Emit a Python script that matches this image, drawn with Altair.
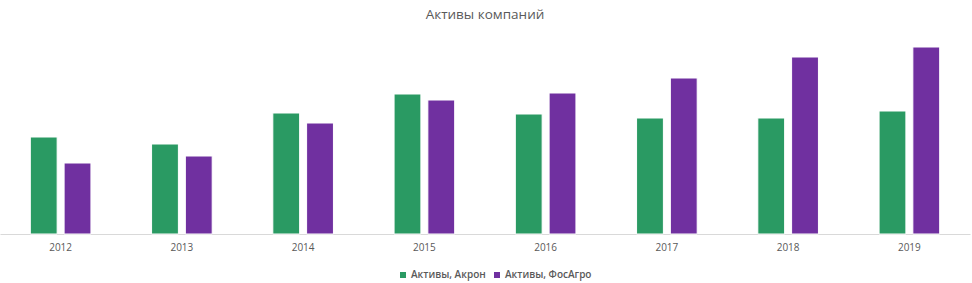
import altair as alt
import pandas as pd

years = ["2012", "2013", "2014", "2015", "2016", "2017", "2018", "2019"]
akron = [97, 90, 121, 140, 120, 116, 116, 123]
phosagro = [71, 78, 111, 134, 141, 156, 177, 187]
series = ["Активы, Акрон", "Активы, ФосАгро"]
colors = ["#2A9A63", "#7030A0"]

rows = []
for i, y in enumerate(years):
    rows.append({"year": y, "series": series[0], "value": akron[i]})
    rows.append({"year": y, "series": series[1], "value": phosagro[i]})
df = pd.DataFrame(rows)

font = "Open Sans"
chart = (
    alt.Chart(df)
    .mark_bar(stroke="white", strokeWidth=1)
    .encode(
        x=alt.X("year:N", sort=years, title=None,
                scale=alt.Scale(paddingInner=0.5, paddingOuter=0.25),
                axis=alt.Axis(labelAngle=0, ticks=False, domainColor="#d9d9d9",
                              labelColor="#595959", labelFontSize=10, labelFont=font,
                              labelPadding=8)),
        xOffset=alt.XOffset("series:N", sort=series,
                            scale=alt.Scale(paddingInner=0.206, paddingOuter=0)),
        y=alt.Y("value:Q", title=None, scale=alt.Scale(domain=[0, 199], nice=False),
                axis=None),
        color=alt.Color("series:N", sort=series,
                        scale=alt.Scale(domain=series, range=colors),
                        legend=alt.Legend(orient="none", legendX=398, legendY=235,
                                          direction="horizontal", title=None,
                                          symbolType="square", symbolSize=36,
                                          symbolStrokeWidth=0, labelOffset=3,
                                          labelFont=font, labelFontSize=10,
                                          labelFontWeight=600, labelColor="#595959",
                                          columnPadding=6)),
    )
    .properties(
        width=970, height=199,
        autosize=alt.AutoSizeParams(type="none"),
        padding={"left": 0, "top": 35, "right": 2, "bottom": 49},
        title=alt.TitleParams("Активы компаний", font=font, fontSize=13.5,
                              fontWeight="normal", color="#595959", offset=14),
    )
    .configure_view(stroke=None)
)

chart.save("out.html", embed_options={"renderer": "svg", "actions": False})
